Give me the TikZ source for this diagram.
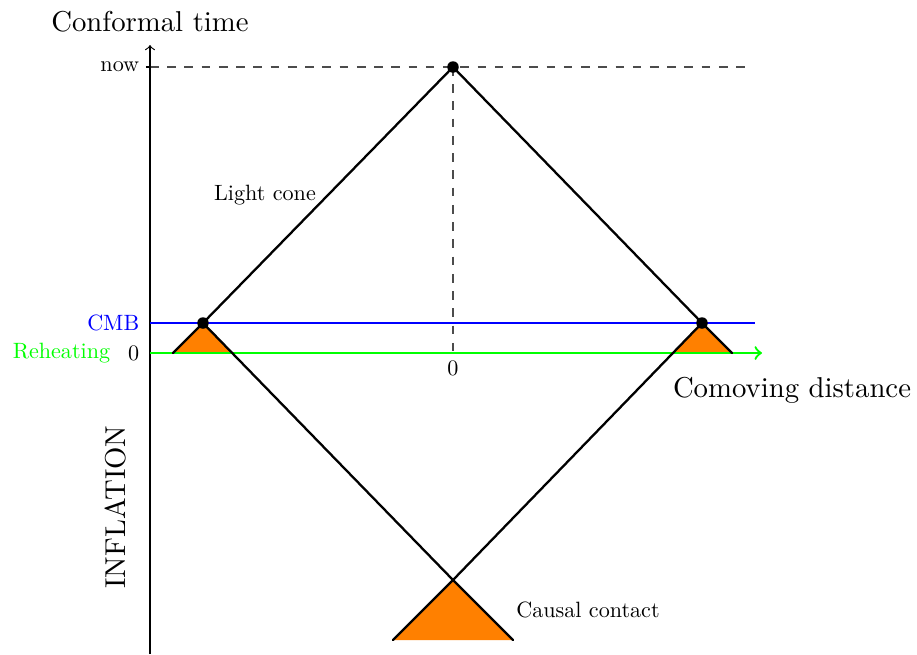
\documentclass[tikz,border=0pt]{standalone}
\begin{document}
\begin{tikzpicture}[x=0.348pt, y=0.348pt,
        cone/.style = {thick, line cap=round},
        horizon/.style = {fill=orange},
        guide/.style = {dashed, black!70},
        lbl/.style = {scale=0.77}]
    \useasboundingbox (-150,-301) rectangle (767,353);

    {
        \coordinate (o) at (0, 0);
        \coordinate (top) at (0, 308);
        \coordinate (bottom) at (0, -301);
        \coordinate (right) at (612, 0);
        \coordinate (nowaxis) at (0, 286);
        \coordinate (nowend) at (600, 286);
        \coordinate (cmbstart) at (0, 30);
        \coordinate (cmbend) at (605, 30);

        \coordinate (now) at (303, 286);
        \coordinate (origin) at (303, 0);
        \coordinate (cmbl) at (53, 30);
        \coordinate (cmbr) at (552, 30);
        \coordinate (contact) at (303, -227);
    }

    % orange patches below the points
    \fill[horizon] (23, 0) -- (cmbl) -- (83, 0) -- cycle;
    \fill[horizon] (522, 0) -- (cmbr) -- (582, 0) -- cycle;
    \fill[horizon] (243, -287) -- (contact) -- (363, -287) -- cycle;

    % dashed guides
    \draw[guide] (nowaxis) -- (nowend);
    \draw[guide] (now) -- (origin);

    % axes
    \draw[->] (bottom) -- (top);
    \draw (-4, 286) -- (nowaxis);
    \draw[->, green, thick] (o) -- (right);
    \draw[blue, thick] (cmbstart) -- (cmbend);

    % light cones
    \draw[cone] (23, 0) -- (cmbl) -- (now) -- (cmbr) -- (582, 0);
    \draw[cone] (cmbl) -- (contact) -- (cmbr);
    \draw[cone] (243, -287) -- (contact) -- (363, -287);

    \fill (now) circle (2pt);
    \fill (cmbl) circle (2pt);
    \fill (cmbr) circle (2pt);

    % labels
    \node[lbl, left] (nowlbl) at (-3, 286) {now};
    \node[lbl, left] (zeroy) at (-3, 0) {0};
    \node[lbl, left, blue] (cmb) at (-3, 30) {CMB};
    \node[lbl, left, green] (reheat) at (-32, 0) {Reheating};
    \node[lbl, below] (zerox) at (origin) {0};
    \node (ylabel) at (0, 331) {Conformal time};
    \node (xlabel) at (642, -37) {Comoving distance};
    \node[rotate=90] (inflation) at (-34, -154) {INFLATION};
    \node[lbl] (lightcone) at (115, 158) {Light cone};
    \node[lbl] (causal) at (438, -257) {Causal contact};

\end{tikzpicture}
\end{document}
